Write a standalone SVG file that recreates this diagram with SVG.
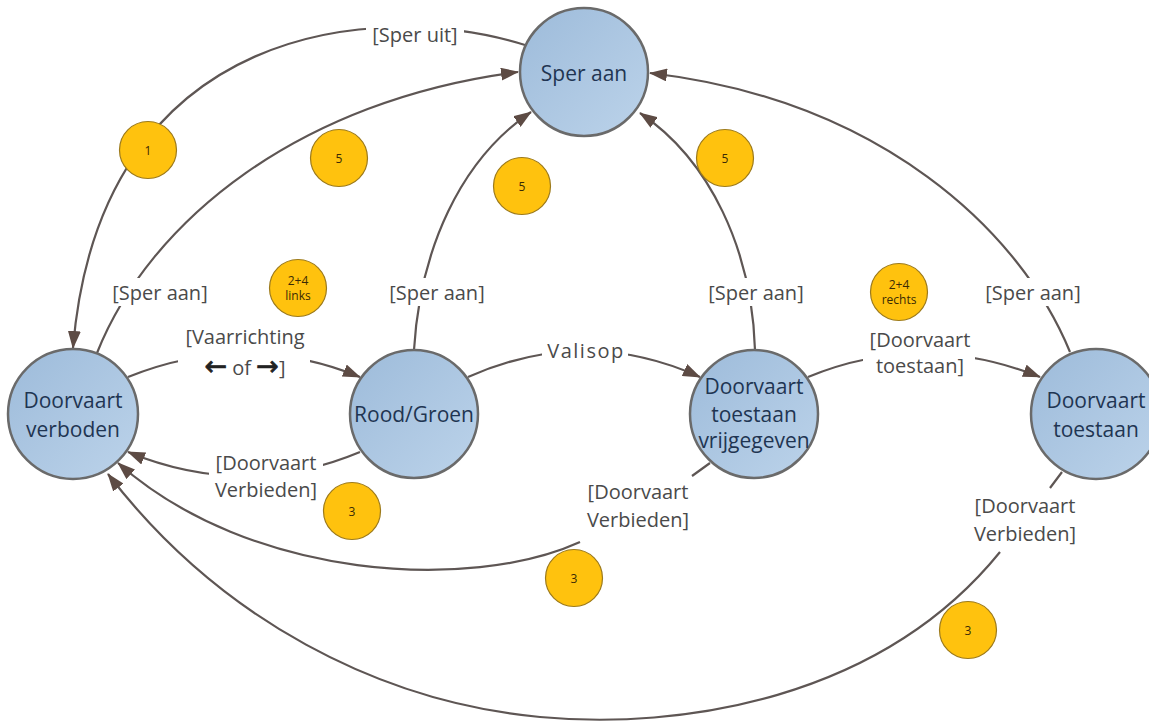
<svg xmlns="http://www.w3.org/2000/svg" width="1149" height="721" viewBox="0 0 1149 721">
<defs>
<linearGradient id="nodeGrad" x1="0" y1="0" x2="1" y2="1">
<stop offset="0" stop-color="#9dbbda"/>
<stop offset="1" stop-color="#bcd3ea"/>
</linearGradient>
<marker id="arr" viewBox="0 0 18 13" refX="17" refY="6.5" markerWidth="18" markerHeight="13" markerUnits="userSpaceOnUse" orient="auto">
<path d="M0,0 L18,6.5 L0,13 Z" fill="#5d4b44"/>
</marker>
<style>
.edge{fill:none;stroke:#5e5654;stroke-width:2.2}
.lblbg{fill:#ffffff}
.lbl{font-family:"Open Sans","Noto Sans","DejaVu Sans",sans-serif;font-size:20px;fill:#4a4a4a;text-anchor:middle}
.arw{font-family:"DejaVu Sans",sans-serif;font-size:27px;fill:#222222;stroke:#222222;stroke-width:0.7}
.node{fill:url(#nodeGrad);stroke:#6a6a6a;stroke-width:2.5}
.ntxt{font-family:"Open Sans","Noto Sans","DejaVu Sans",sans-serif;font-size:21px;fill:#1f3552;text-anchor:middle}
.badge{fill:#ffc20e;stroke:#9c7a1c;stroke-width:1.2}
.btxt{font-family:"Open Sans","Noto Sans",sans-serif;font-size:12px;fill:#3a2a05;text-anchor:middle}
</style>
</defs>
<rect width="1149" height="721" fill="#ffffff"/>
<g id="connectors">
<path class="edge" d="M 525 45 C 380 0, 100 20, 73 348" marker-end="url(#arr)"/>
<path class="edge" d="M 97 353 C 150 220, 300 100, 518 72" marker-end="url(#arr)"/>
<path class="edge" d="M 414 350 C 420 250, 460 160, 531 112" marker-end="url(#arr)"/>
<path class="edge" d="M 755 350 C 752 250, 710 160, 640 113" marker-end="url(#arr)"/>
<path class="edge" d="M 1070 352 C 1020 230, 880 100, 650 73" marker-end="url(#arr)"/>
<path class="edge" d="M 128 377 Q 245 330, 360 377" marker-end="url(#arr)"/>
<path class="edge" d="M 360 452 Q 245 500, 128 452" marker-end="url(#arr)"/>
<path class="edge" d="M 710 463 L 692 476 M 580 542 C 470 592, 250 580, 118 463" marker-end="url(#arr)"/>
<path class="edge" d="M 1062 472 L 1050 488 M 1000 552 C 880 700, 680 730, 540 717 C 380 702, 220 620, 108 474" marker-end="url(#arr)"/>
<path class="edge" d="M 468 377 Q 585 325, 700 377" marker-end="url(#arr)"/>
<path class="edge" d="M 808 377 Q 922 330, 1040 377" marker-end="url(#arr)"/>
<g id="labels">
<rect class="lblbg" x="366" y="24" width="98" height="24"/>
<text class="lbl" x="415" y="42">[Sper uit]</text>
<rect class="lblbg" x="108" y="278" width="104" height="28"/>
<text class="lbl" x="160" y="300">[Sper aan]</text>
<rect class="lblbg" x="385" y="278" width="104" height="28"/>
<text class="lbl" x="437" y="300">[Sper aan]</text>
<rect class="lblbg" x="704" y="278" width="104" height="28"/>
<text class="lbl" x="756" y="300">[Sper aan]</text>
<rect class="lblbg" x="981" y="278" width="104" height="28"/>
<text class="lbl" x="1033" y="300">[Sper aan]</text>
<rect class="lblbg" x="178" y="324" width="132" height="56"/>
<text class="lbl" x="245" y="344">[Vaarrichting</text>
<text class="lbl" x="245" y="375"><tspan class="arw">←</tspan> of <tspan class="arw">→</tspan>]</text>
<rect class="lblbg" x="542" y="338" width="86" height="26"/>
<text class="lbl" x="586" y="358" letter-spacing="1.5">Valisop</text>
<rect class="lblbg" x="863" y="326" width="112" height="54"/>
<text class="lbl" x="920" y="347">[Doorvaart</text>
<text class="lbl" x="920" y="373">toestaan]</text>
<rect class="lblbg" x="209" y="450" width="114" height="54"/>
<text class="lbl" x="266" y="470">[Doorvaart</text>
<text class="lbl" x="266" y="497">Verbieden]</text>
<rect class="lblbg" x="581" y="478" width="114" height="56"/>
<text class="lbl" x="638" y="499">[Doorvaart</text>
<text class="lbl" x="638" y="527">Verbieden]</text>
<rect class="lblbg" x="968" y="492" width="114" height="56"/>
<text class="lbl" x="1025" y="513">[Doorvaart</text>
<text class="lbl" x="1025" y="541">Verbieden]</text>
</g>
</g>
<g id="node-sper-aan">
<circle class="node" cx="584" cy="72" r="64"/>
<text class="ntxt" x="584" y="81">Sper aan</text>
</g>
<g id="node-doorvaart-verboden">
<circle class="node" cx="73" cy="414" r="65"/>
<text class="ntxt" x="73" y="408">Doorvaart</text>
<text class="ntxt" x="73" y="437">verboden</text>
</g>
<g id="node-rood-groen">
<circle class="node" cx="414" cy="414" r="64"/>
<text class="ntxt" x="414" y="422">Rood/Groen</text>
</g>
<g id="node-doorvaart-toestaan-vrijgegeven">
<circle class="node" cx="754" cy="414" r="64"/>
<text class="ntxt" x="754" y="394">Doorvaart</text>
<text class="ntxt" x="754" y="422">toestaan</text>
<text class="ntxt" x="754" y="448">vrijgegeven</text>
</g>
<g id="node-doorvaart-toestaan">
<circle class="node" cx="1096" cy="414" r="65"/>
<text class="ntxt" x="1096" y="408">Doorvaart</text>
<text class="ntxt" x="1096" y="437">toestaan</text>
</g>
<g id="badges">
<g id="badge-1"><circle class="badge" cx="148" cy="150" r="28.5"/><text class="btxt" x="148" y="155">1</text></g>
<g id="badge-5a"><circle class="badge" cx="339" cy="158" r="28.5"/><text class="btxt" x="339" y="163">5</text></g>
<g id="badge-5b"><circle class="badge" cx="522" cy="186" r="28.5"/><text class="btxt" x="522" y="191">5</text></g>
<g id="badge-5c"><circle class="badge" cx="725" cy="158" r="28.5"/><text class="btxt" x="725" y="163">5</text></g>
<g id="badge-24-links"><circle class="badge" cx="298" cy="288" r="28.5"/><text class="btxt" x="298" y="285">2+4</text><text class="btxt" x="298" y="300">links</text></g>
<g id="badge-24-rechts"><circle class="badge" cx="899" cy="292" r="28.5"/><text class="btxt" x="899" y="289">2+4</text><text class="btxt" x="899" y="304">rechts</text></g>
<g id="badge-3a"><circle class="badge" cx="352" cy="511" r="28.5"/><text class="btxt" x="352" y="516">3</text></g>
<g id="badge-3b"><circle class="badge" cx="574" cy="578" r="28.5"/><text class="btxt" x="574" y="583">3</text></g>
<g id="badge-3c"><circle class="badge" cx="968" cy="630" r="28.5"/><text class="btxt" x="968" y="635">3</text></g>
</g>
</svg>
